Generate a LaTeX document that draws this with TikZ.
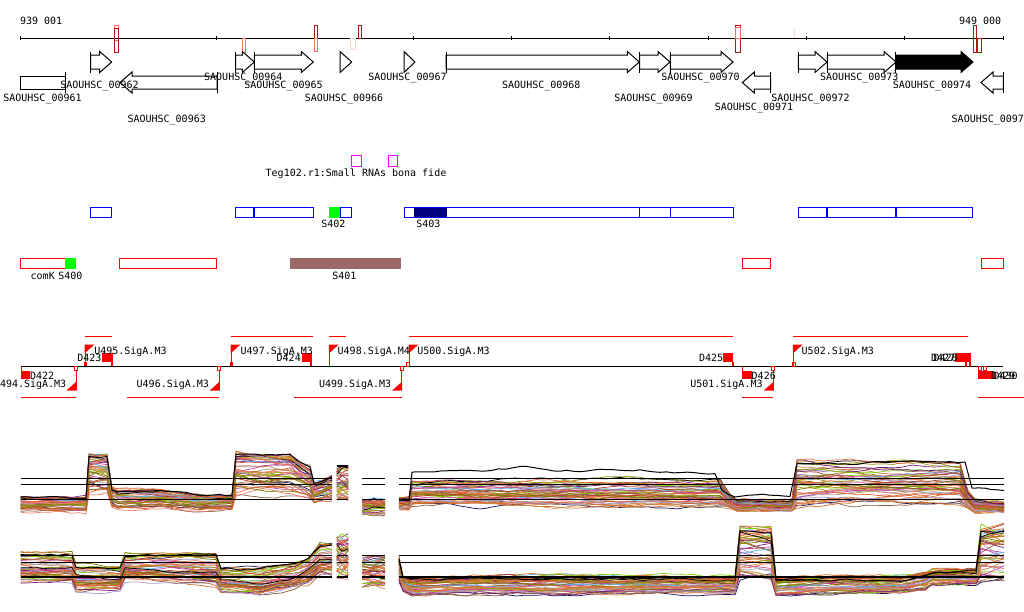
\documentclass[tikz,border=0pt]{standalone}
\usepackage{fontspec}
\setmonofont{DejaVu Sans Mono}
\definecolor{dred}{HTML}{B01818}
\definecolor{salm}{HTML}{F07858}
\definecolor{lpink}{HTML}{FCD8CC}
\definecolor{brownbox}{HTML}{9C6A66}
\definecolor{navyfill}{HTML}{000080}
\definecolor{mag}{HTML}{FF00FF}
\definecolor{c1}{HTML}{E8603C}
\definecolor{c2}{HTML}{D2691E}
\definecolor{c3}{HTML}{9A9A10}
\definecolor{c4}{HTML}{7CCD00}
\definecolor{c5}{HTML}{5AB4F0}
\definecolor{c6}{HTML}{7B1F7B}
\definecolor{c7}{HTML}{C8409C}
\definecolor{c8}{HTML}{101060}
\definecolor{c9}{HTML}{8B5A3C}
\definecolor{c10}{HTML}{A898C8}
\definecolor{c11}{HTML}{A0A0A0}
\definecolor{c12}{HTML}{E88070}
\definecolor{c13}{HTML}{7A7A00}
\definecolor{c14}{HTML}{000000}
\definecolor{c15}{HTML}{CD853F}
\definecolor{c16}{HTML}{B03A2E}
\tikzset{
  lbl/.style={font=\ttfamily\fontsize{10}{10}\selectfont, inner sep=0pt, outer sep=0pt, text=black},
  gene/.style={draw=black, fill=white, line width=1pt, line join=miter},
  bbox/.style={draw=blue, line width=1pt},
  rbox/.style={draw=red, line width=1pt},
  refline/.style={draw=black, line width=1.1pt},
}
% forward gene arrow: #1 fill, #2 start, #3 tip
\newcommand\fwdgene[3][white]{%
  \draw[gene,fill=#1] (#2,55) -- ({#3-12},55) -- ({#3-12},51.5) -- (#3,62) -- ({#3-12},72.5) -- ({#3-12},69) -- (#2,69) -- cycle;
  \draw[line width=1pt] (#2,51.5) -- (#2,72.5);}
% reverse gene arrow: #1 tip, #2 start
\newcommand\revgene[2]{%
  \draw[gene] (#2,76) -- ({#1+12},76) -- ({#1+12},72) -- (#1,82.5) -- ({#1+12},93) -- ({#1+12},89) -- (#2,89) -- cycle;
  \draw[line width=1pt] (#2,72) -- (#2,93);}
\newcommand\fflag[1]{%
  \draw[red,line width=1pt] (#1,345) -- (#1,366);
  \fill[red] ({#1-0.5},344.5) -- ({#1+9.5},344.5) -- ({#1-0.5},353.5) -- cycle;}
\newcommand\rflag[1]{%
  \draw[red,line width=1pt] (#1,370) -- (#1,390);
  \fill[red] ({#1+0.5},390.5) -- ({#1-9.5},390.5) -- ({#1+0.5},381.5) -- cycle;
  \draw[red,line width=0.8pt] ({#1-1.7},366.5) rectangle ({#1+1.3},370);}
% expression curve builder: band-relative position with per-keypoint jitter
% and correlated random-walk noise
\newcommand\buildcurve[3]{% #1 base fraction, #2 keypoints, #3 jitter
  \gdef\pts{}\gdef\havep{0}\gdef\off{0}%
  \foreach \kx/\ka/\kb in #2 {%
    \pgfmathsetmacro\fk{max(0,min(1.05,#1+#3*rand))}%
    \ifnum\havep=0
      \pgfmathsetmacro\cY{\ka+\fk*(\kb-\ka)}%
      \xdef\pts{(\kx,\cY)}%
      \gdef\havep{1}%
    \else
      \pgfmathtruncatemacro\nsub{max(1,round((\kx-\px)/7))}%
      \foreach \kk in {1,...,\nsub} {%
        \pgfmathsetmacro\tt{\kk/\nsub}%
        \pgfmathsetmacro\cX{\px+\tt*(\kx-\px)}%
        \pgfmathsetmacro\cA{\pa+\tt*(\ka-\pa)}%
        \pgfmathsetmacro\cB{\pb+\tt*(\kb-\pb)}%
        \pgfmathsetmacro\cF{\pf+\tt*(\fk-\pf)}%
        \pgfmathsetmacro\noff{0.8*\off+1.1*rand}%
        \xdef\off{\noff}%
        \pgfmathsetmacro\cY{\cA+\cF*(\cB-\cA)+\off}%
        \xdef\pts{\pts -- (\cX,\cY)}%
      }%
    \fi
    \xdef\px{\kx}\xdef\pa{\ka}\xdef\pb{\kb}\xdef\pf{\fk}%
  }%
}
\newcommand\drawcurve[2]{% #1 color, #2 width
  \edef\tmpdraw{\noexpand\draw[draw=#1,line width=#2,line join=round] \pts;}\tmpdraw}
\newcommand\bundle[1]{%
  \foreach \cc in \palette {%
    \pgfmathsetmacro\ff{rnd^0.8}%
    \buildcurve{\ff}{#1}{0.12}%
    \drawcurve{\cc}{0.7pt}%
  }}
\def\palette{c1,c2,c3,c4,c5,c6,c7,c8,c9,c10,c11,c12,c13,c15,c16,c1,c2,c3,c4,c6,c7,c9,c10,c12,c13,c15,c1,c2,c3,c4,c5,c7,c9,c12,c16,c1,c2,c15,c3,c13,c14,c6,c10,c1}
\def\PoneA{20.7/513/497, 50/513/497, 86/513/497, 89/495/455, 107/495/455, 112/508/488, 118/511/490, 160/509/491, 200/512/496, 232/511/496, 236/497/454, 262/496/455, 290/495/456, 300/498/462, 310/500/468, 314/504/484, 332/500/476}
\def\PoneB{336.7/500/467, 342/500/467, 348.3/500/467}
\def\PoneC{362.3/516/498, 374/516/498, 385/516/498}
\def\PoneD{399/510/498, 409/510/498, 412/506/481, 480/507/480, 550/508/480, 620/508/480, 720/507/482, 730/509/496, 737/512/500, 792/511/500, 797/508/461, 850/506/462, 900/505/463, 960/505/464, 968/508/490, 975/512/500, 1004/512/503}
\def\PtwoA{20.7/583/553, 72/583/553, 76/592/566, 120/590/566, 125/581/554, 170/583/553, 216/586/553, 221/593/567, 260/596/568, 295/590/564, 308/585/558, 320/575/545, 332/575/543}
\def\PtwoB{336.7/578/535, 342/578/535, 348.3/578/535}
\def\PtwoC{362.3/587/557, 374/587/557, 385/587/557}
\def\PtwoD{399/582/556, 403/591/576, 412/596/578, 480/594/577, 560/595/576, 650/594/576, 735/594/577, 740/580/526, 771/580/528, 776/596/578, 840/594/577, 900/593/577, 925/590/572, 932/585/570, 976/585/569, 981/581/527, 1004/582/527}
\def\BlackD{399/500/500, 409/500/500, 412/472/472, 470/471/471, 520/468/468, 560/472/472, 620/470/470, 680/471/471, 715/472/472, 722/490/490, 735/496/496, 790/494/494, 797/461/461, 900/463/463, 965/462/462, 972/488/488, 1004/490/490}
\begin{document}
\begin{tikzpicture}[x=1pt,y=-1pt]
\clip (0,0) rectangle (1024,611);
\fill[white] (0,0) rectangle (1024,611);

% ---------- top coordinate axis ----------
\node[lbl,anchor=base west] (start) at (20,24) {939 001};
\node[lbl,anchor=base west] (end) at (959,24) {949 000};
\draw[line width=1pt] (20,38) -- (1003,38);
\foreach \k in {0,...,10} \draw[line width=1pt] ({20+\k*98.3},35.8) -- ++(0,4.6);
\draw[salm,line width=1pt] (114.3,25.3) rectangle (118.7,40);
\draw[dred,line width=1pt] (114.6,28) rectangle (118.4,52.3);
\draw[salm,line width=1pt] (242.3,38) rectangle (245,52);
\draw[dred,line width=1pt] (314.3,25) rectangle (317.3,38.5);
\draw[salm,line width=1pt] (314.3,38.5) rectangle (317.3,51);
\draw[lpink,line width=1pt] (350,38) rectangle (355,49);
\draw[dred,line width=1pt] (358.3,25) rectangle (361.7,38);
\draw[dred,line width=1pt] (735,25) rectangle (740.7,52.3);
\draw[salm,line width=1pt] (735.7,27) rectangle (740,38);
\draw[lpink,line width=1.5pt] (794.3,29) -- (794.3,38);
\draw[dred,line width=1pt] (973.3,25) rectangle (976.7,52);
\draw[dred,line width=1pt] (977.7,38) rectangle (981,52);

% ---------- genes ----------
\fwdgene{90.7}{111.7}
\fwdgene{235.7}{254.3}
\fwdgene{254.3}{313.3}
\draw[gene] (340,51.5) -- (351.7,62) -- (340,72.5) -- cycle;
\draw[gene] (404,51.5) -- (415,62) -- (404,72.5) -- cycle;
\fwdgene{446}{639.3}
\fwdgene{639.7}{670}
\fwdgene{670.3}{733}
\fwdgene{798.3}{827}
\fwdgene{827.3}{896}
\fwdgene[black]{895.7}{973}
\draw[gene] (20.7,76) rectangle (65,89);
\draw[line width=1pt] (65,72) -- (65,93);
\revgene{120}{217}
\revgene{742.3}{770.7}
\revgene{981}{1003.3}

\node[lbl,anchor=base] (l961) at (42.5,101) {SAOUHSC\_00961};
\node[lbl,anchor=base] (l962) at (99.5,88) {SAOUHSC\_00962};
\node[lbl,anchor=base] (l963) at (166.7,122) {SAOUHSC\_00963};
\node[lbl,anchor=base] (l964) at (243.3,80) {SAOUHSC\_00964};
\node[lbl,anchor=base] (l965) at (283.5,88) {SAOUHSC\_00965};
\node[lbl,anchor=base] (l966) at (344,101) {SAOUHSC\_00966};
\node[lbl,anchor=base] (l967) at (407.5,80) {SAOUHSC\_00967};
\node[lbl,anchor=base] (l968) at (541.3,88) {SAOUHSC\_00968};
\node[lbl,anchor=base] (l969) at (653.5,101) {SAOUHSC\_00969};
\node[lbl,anchor=base] (l970) at (700.5,80) {SAOUHSC\_00970};
\node[lbl,anchor=base] (l971) at (754,110) {SAOUHSC\_00971};
\node[lbl,anchor=base] (l972) at (810.5,101) {SAOUHSC\_00972};
\node[lbl,anchor=base] (l973) at (859.3,80) {SAOUHSC\_00973};
\node[lbl,anchor=base] (l974) at (932,88) {SAOUHSC\_00974};
\node[lbl,anchor=base west] (l975) at (951.7,122) {SAOUHSC\_0097};

% ---------- small RNA track ----------
\draw[mag,line width=1pt] (351.7,155) rectangle (361.7,166.7);
\draw[mag,line width=1pt] (388,155) rectangle (397.7,166.7);
\node[lbl,anchor=base west] (teg) at (265.7,176) {Teg102.r1:Small RNAs bona fide};

\draw[bbox] (90.3,207.3) rectangle (111.7,217.3);
\draw[bbox] (235.3,207.3) rectangle (313.7,217.3);
\draw[blue,line width=2pt] (254,207.3) -- (254,217.3);
\fill[green] (329,206.8) rectangle (340,217.8);
\draw[bbox] (340,207.3) rectangle (351.7,217.3);
\fill[navyfill] (414.3,206.8) rectangle (446.7,217.8);
\draw[bbox] (404.3,207.3) rectangle (733.7,217.3);
\draw[blue,line width=1pt] (639.7,207.3) -- (639.7,217.3);
\draw[blue,line width=1pt] (670.3,207.3) -- (670.3,217.3);
\draw[bbox] (798.3,207.3) rectangle (972.3,217.3);
\draw[blue,line width=2pt] (827,207.3) -- (827,217.3);
\draw[blue,line width=2pt] (896,207.3) -- (896,217.3);
\node[lbl,anchor=base] (s402) at (333.3,227.3) {S402};
\node[lbl,anchor=base] (s403) at (428.3,227.3) {S403};

\draw[rbox] (20.3,258) rectangle (65,268.3);
\fill[green] (65,257.5) rectangle (76,268.8);
\draw[rbox] (119.3,258) rectangle (216.7,268.3);
\fill[brownbox] (290,257.5) rectangle (401,268.8);
\draw[rbox] (742.3,258) rectangle (770.3,268.3);
\draw[rbox] (981.3,258) rectangle (1003.3,268.3);
\node[lbl,anchor=base west] (comk) at (30.7,279.3) {comK};
\node[lbl,anchor=base west] (s400) at (58.3,279.3) {S400};
\node[lbl,anchor=base] (s401) at (344.3,279.3) {S401};

% ---------- operon / promoter track ----------
\draw[line width=1pt] (20.7,366) -- (1003,366);
\foreach \xa/\xb in {85/111.7, 231/312.7, 329.3/345.7, 409/733.3, 793.3/967.7}
  \draw[red,line width=1pt] (\xa,336) -- (\xb,336);
\foreach \xa/\xb in {20.7/76, 127.3/219.3, 294/401.7, 742.3/773.3, 978.3/1024}
  \draw[red,line width=1pt] (\xa,397) -- (\xb,397);
\fflag{85} \fflag{231} \fflag{329.3} \fflag{409} \fflag{793.3}
\fill[red] (84.3,361.5) rectangle (87.3,366);
\fill[red] (230.3,361.5) rectangle (233,366);
\draw[red,line width=0.8pt] (406.7,362) rectangle (409.3,366);
\draw[red,line width=0.8pt] (792.3,362) rectangle (795.7,366);
\rflag{76} \rflag{219.3} \rflag{401.7} \rflag{773.3}
% terminators
\fill[red] (101.7,353.3) rectangle (112.7,361.7);
\fill[red] (110.7,361.7) rectangle (112.7,366);
\fill[red] (302.3,353.3) rectangle (311.7,361.7);
\fill[red] (309.7,361.7) rectangle (311.7,366);
\fill[red] (723.3,353.3) rectangle (733.3,361.7);
\fill[red] (732.3,361.7) rectangle (733.7,366);
\fill[red] (955,353) rectangle (970.7,361.7);
\draw[red,line width=0.8pt] (965,361.7) rectangle (966.7,366);
\draw[red,line width=0.8pt] (969,361.7) rectangle (970.7,366);
\fill[red] (20.7,371) rectangle (30,379.3);
\fill[red] (20.7,366) rectangle (22,371);
\fill[red] (742.3,371) rectangle (751.7,379.3);
\fill[red] (741.7,366) rectangle (743,371);
\fill[red] (978.3,370.5) rectangle (994,379.3);
\draw[red,line width=0.8pt] (978.3,366.5) rectangle (981,370);
\draw[red,line width=0.8pt] (983.5,366.5) rectangle (986.5,370);
% labels
\node[lbl,anchor=base west] (u495) at (94.3,354) {U495.SigA.M3};
\node[lbl,anchor=base west] (u497) at (240.7,354) {U497.SigA.M3};
\node[lbl,anchor=base west] (u498) at (337.7,354) {U498.SigA.M4};
\node[lbl,anchor=base west] (u500) at (417.3,354) {U500.SigA.M3};
\node[lbl,anchor=base west] (u502) at (801.7,354) {U502.SigA.M3};
\node[lbl,anchor=base west] (d423) at (77.3,361) {D423};
\node[lbl,anchor=base west] (d424) at (276.7,361) {D424};
\node[lbl,anchor=base west] (d425) at (699,361) {D425};
\node[lbl,anchor=base west] (d427) at (931,361) {D427};
\node[lbl,anchor=base west] (d428) at (933.5,361) {D428};
\node[lbl,anchor=base west] (d422) at (30,379) {D422};
\node[lbl,anchor=base west] (d426) at (751.7,379) {D426};
\node[lbl,anchor=base west] (d429) at (991,379) {D429};
\node[lbl,anchor=base west] (d430) at (993.5,379) {D430};
\node[lbl,anchor=base west] (u494) at (0,387) {494.SigA.M3};
\node[lbl,anchor=base west] (u496) at (136.7,387) {U496.SigA.M3};
\node[lbl,anchor=base west] (u499) at (319,387) {U499.SigA.M3};
\node[lbl,anchor=base west] (u501) at (690.3,387) {U501.SigA.M3};

% ---------- expression panels ----------
\pgfmathsetseed{7}
\bundle{\PoneA}
\bundle{\PoneB}
\bundle{\PoneC}
\bundle{\PoneD}
\buildcurve{1}{\PoneA}{0}\drawcurve{black}{1pt}
\buildcurve{0}{\BlackD}{0}\drawcurve{black}{1pt}
\bundle{\PtwoA}
\bundle{\PtwoB}
\bundle{\PtwoC}
\bundle{\PtwoD}
\buildcurve{0.95}{\PtwoA}{0}\drawcurve{black}{1pt}
\buildcurve{0.9}{\PtwoD}{0}\drawcurve{black}{1pt}
\foreach \xa/\xb in {20.7/332.3, 362.3/385, 399/1004} {
  \draw[refline] (\xa,478.3) -- (\xb,478.3);
  \draw[refline] (\xa,484.3) -- (\xb,484.3);
  \draw[refline] (\xa,499.3) -- (\xb,499.3);
}
\draw[refline] (336.7,466) -- (348.3,466);
\draw[refline] (336.7,499.3) -- (348.3,499.3);
\foreach \xa/\xb in {20.7/332.3, 336.7/348.3, 362.3/385, 399/1004} {
  \draw[refline] (\xa,555.7) -- (\xb,555.7);
  \draw[refline] (\xa,562.3) -- (\xb,562.3);
  \draw[refline] (\xa,577) -- (\xb,577);
}
\end{tikzpicture}
\end{document}
